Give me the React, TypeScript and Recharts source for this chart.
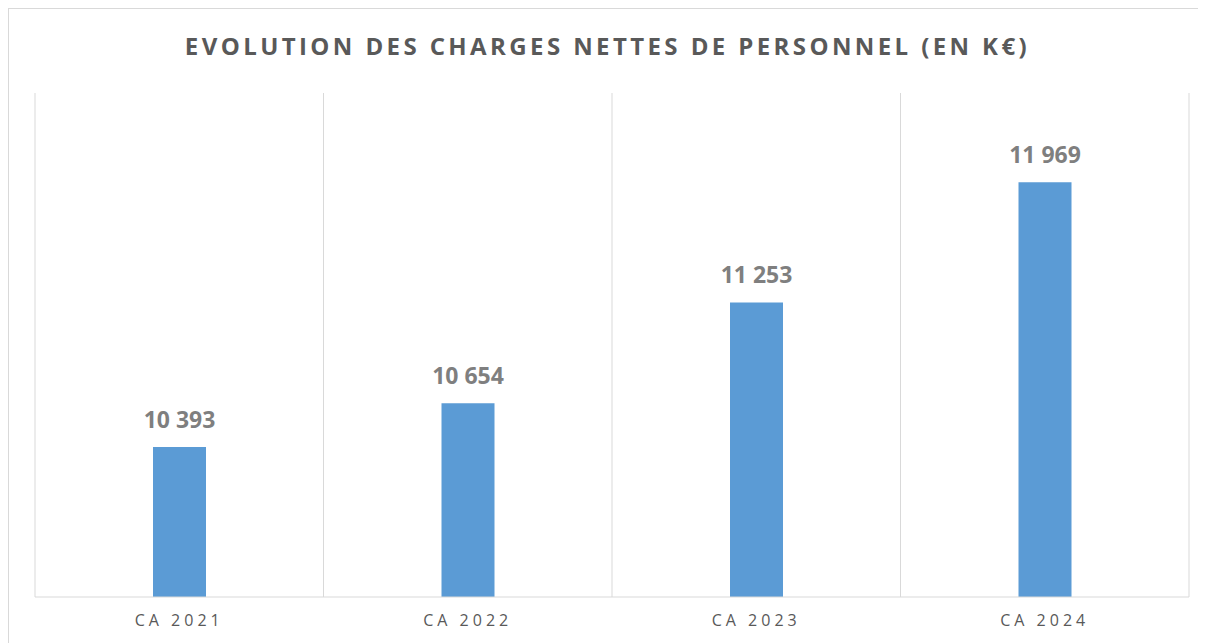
import React from "react"
import {
  BarChart,
  Bar,
  XAxis,
  YAxis,
  CartesianGrid,
  LabelList,
} from "recharts"

const categories = ["CA 2021", "CA 2022", "CA 2023", "CA 2024"]
const charges = [10393, 10654, 11253, 11969]

const data = categories.map((name, i) => ({ name, value: charges[i] }))

const fmt = (v: number) =>
  String(v).replace(/\B(?=(\d{3})+(?!\d))/g, " ")

export default function App() {
  return (
    <div
      style={{
        position: "relative",
        width: 1197,
        height: 634,
        borderTop: "1px solid #d9d9d9",
        borderLeft: "1px solid #d9d9d9",
        background: "#fff",
        fontFamily: "'Open Sans', sans-serif",
      }}
    >
      <div
        style={{
          position: "absolute",
          top: 20,
          left: 0,
          width: "100%",
          textAlign: "center",
          fontSize: 24,
          fontWeight: 700,
          letterSpacing: 3.4,
          color: "#595959",
        }}
      >
        EVOLUTION DES CHARGES NETTES DE PERSONNEL (EN K€)
      </div>
      <BarChart
        width={1197}
        height={634}
        data={data}
        margin={{ top: 84, right: 17, left: 26, bottom: 0 }}
      >
        <CartesianGrid
          horizontal={false}
          stroke="#d9d9d9"
          verticalCoordinatesGenerator={({ offset }: any) =>
            [0, 1, 2, 3, 4].map(
              (i) => offset.left + (i * offset.width) / categories.length
            )
          }
        />
        <XAxis
          dataKey="name"
          height={46}
          tickLine={false}
          axisLine={{ stroke: "#d9d9d9" }}
          tick={{
            fill: "#595959",
            fontSize: 16,
            letterSpacing: 4,
            fontFamily: "'Open Sans', sans-serif",
          }}
          dy={10}
        />
        <YAxis hide domain={[9500, 12500]} />
        <Bar
          dataKey="value"
          fill="#5b9bd5"
          barSize={53}
          isAnimationActive={false}
        >
          <LabelList
            dataKey="value"
            position="top"
            offset={19}
            formatter={(v: any) => fmt(Number(v))}
            style={{
              fill: "#7f7f7f",
              fontSize: 23,
              fontWeight: 700,
              fontFamily: "'Open Sans', sans-serif",
            }}
          />
        </Bar>
      </BarChart>
    </div>
  )
}
